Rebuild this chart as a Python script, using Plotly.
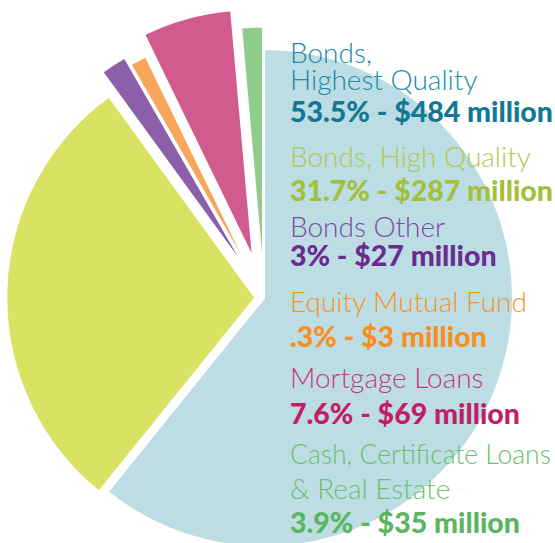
import math
import plotly.graph_objects as go

# ---- data ----
categories = ["Bonds, Highest Quality", "Bonds, High Quality", "Bonds Other",
              "Equity Mutual Fund", "Mortgage Loans",
              "Cash, Certificate Loans & Real Estate"]
slice_values = [60.8, 29.2, 1.7, 1.1, 5.8, 1.4]
pct_labels = ["53.5%", "31.7%", "3%", ".3%", "7.6%", "3.9%"]
amount_labels = ["$484 million", "$287 million", "$27 million", "$3 million",
                 "$69 million", "$35 million"]
title_lines = [["Bonds,", "Highest Quality"], ["Bonds, High Quality"], ["Bonds Other"],
               ["Equity Mutual Fund"], ["Mortgage Loans"],
               ["Cash, Certificate Loans", "& Real Estate"]]
title_sizes = [[28, 28], [28], [28], [28], [28], [26.5, 28]]
pulls = [0.0, 0.035, 0.12, 0.08, 0.165, 0.09]

slice_colors = ["#BCDDE4", "#D9E263", "#8B5FA9", "#F8A65A", "#D15A8F", "#8ECD8C"]
title_colors = ["#2389A8", "#AFC94E", "#7A4D9E", "#F7941D", "#C8387A", "#6CC06E"]
value_colors = ["#137896", "#A3BF3B", "#6A2D8F", "#F7901E", "#C21E68", "#5BB55E"]

W, H = 555, 550
CX, CY, R = 264, 298, 249

fig = go.Figure()
total = sum(slice_values)
cum = 0.0
for i, v in enumerate(slice_values):
    mid = (cum + v / 2) / total * 2 * math.pi
    cum += v
    d = pulls[i] * R
    cx = CX + d * math.sin(mid)
    cy = CY - d * math.cos(mid)
    x0 = max(0.0, (cx - R) / W)
    x1 = min(1.0, (cx + R) / W)
    y0 = max(0.0, 1 - (cy + R) / H)
    y1 = min(1.0, 1 - (cy - R) / H)
    cols = ["rgba(0,0,0,0)"] * len(slice_values)
    lcols = ["rgba(0,0,0,0)"] * len(slice_values)
    cols[i] = slice_colors[i]
    lcols[i] = "white"
    fig.add_trace(go.Pie(
        labels=categories, values=slice_values, sort=False,
        direction="clockwise", rotation=0,
        marker=dict(colors=cols, line=dict(color=lcols, width=2)),
        textinfo="none", hoverinfo="skip", showlegend=False,
        domain=dict(x=[x0, x1], y=[y0, y1]),
    ))

# ---- text blocks on the right (positions given as text baselines) ----
TX = 288
VALUE_SIZE = 28.5
title_base = [[63, 90], [167], [237], [312], [388], [464, 499]]
value_base = [122, 201, 266, 347, 424, 533]
for i in range(len(categories)):
    for line, yb, fs in zip(title_lines[i], title_base[i], title_sizes[i]):
        yc = yb - 0.38 * fs
        fig.add_annotation(
            x=TX / W, y=1 - yc / H, xref="paper", yref="paper",
            xanchor="left", yanchor="middle", showarrow=False,
            text=line,
            font=dict(family="Lato", size=fs, color=title_colors[i], weight=300),
        )
    yc = value_base[i] - 0.38 * VALUE_SIZE
    fig.add_annotation(
        x=TX / W, y=1 - yc / H, xref="paper", yref="paper",
        xanchor="left", yanchor="middle", showarrow=False,
        text=f"{pct_labels[i]} - {amount_labels[i]}",
        font=dict(family="Lato", size=VALUE_SIZE, color=value_colors[i], weight=900),
    )

fig.update_layout(
    width=W, height=H,
    margin=dict(l=0, r=0, t=0, b=0),
    paper_bgcolor="white", plot_bgcolor="white",
)
fig.write_html(
    "out.html",
    config={"displayModeBar": False},
    post_script="document.body.style.margin='0px';document.body.style.overflow='hidden';",
)
